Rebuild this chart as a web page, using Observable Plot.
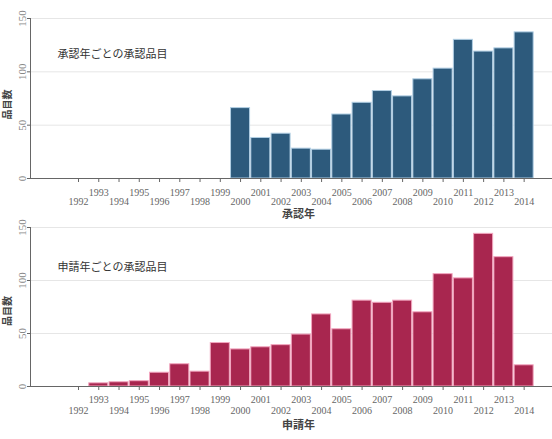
<!DOCTYPE html>
<html>
<head>
<meta charset="utf-8">
<script src="https://cdn.jsdelivr.net/npm/d3@7"></script>
<script src="https://cdn.jsdelivr.net/npm/@observablehq/plot@0.6"></script>
<style>
  body { margin: 0; background: #fff; }
  #chart { width: 552px; }
  #chart svg { display: block; }
</style>
</head>
<body>
<div id="chart"></div>
<script>
// Approval year panel
const approvalYears = [2000, 2001, 2002, 2003, 2004, 2005, 2006, 2007, 2008, 2009, 2010, 2011, 2012, 2013, 2014];
const approvalCounts = [66, 38, 42, 28, 27, 60, 71, 82, 77, 93, 103, 130, 119, 122, 137];

// Application year panel
const applicationYears = [1993, 1994, 1995, 1996, 1997, 1998, 1999, 2000, 2001, 2002, 2003, 2004, 2005, 2006, 2007, 2008, 2009, 2010, 2011, 2012, 2013, 2014];
const applicationCounts = [3, 4, 5, 13, 21, 14, 41, 35, 37, 39, 49, 68, 54, 81, 79, 81, 70, 106, 102, 144, 122, 20];

// Axis ticks
const tickYears = [1992, 1993, 1994, 1995, 1996, 1997, 1998, 1999, 2000, 2001, 2002, 2003, 2004, 2005, 2006, 2007, 2008, 2009, 2010, 2011, 2012, 2013, 2014];
const yTicks = [0, 50, 100, 150];

const titles = ["承認年ごとの承認品目", "申請年ごとの承認品目"];
const xTitles = ["承認年", "申請年"];
const yTitle = "品目数";

const serif = "Liberation Serif";
const sans = "Noto Sans CJK JP";

function panel({years, counts, fill, stroke, title, xTitle, height, marginTop, marginBottom, oddPad, evenPad, titleDy, xTitleDy, yTitleDy}) {
  const data = years.map((y, i) => ({year: y, n: counts[i]}));
  const odd = tickYears.filter(y => y % 2 === 1);
  const even = tickYears.filter(y => y % 2 === 0);
  return Plot.plot({
    width: 552,
    height,
    marginLeft: 30,
    marginRight: 0,
    marginTop,
    marginBottom,
    style: {fontFamily: serif, background: "#fff", overflow: "visible"},
    x: {type: "linear", domain: [1989.63, 2015.4], axis: null},
    y: {domain: [0, 150], axis: null},
    marks: [
      Plot.gridY(yTicks, {stroke: "#e6e6e6", strokeOpacity: 1, strokeWidth: 1}),
      Plot.rectY(data, {x1: d => d.year - 0.47, x2: d => d.year + 0.47, y: "n", fill, stroke, strokeWidth: 1}),
      Plot.axisX({ticks: tickYears, tickSize: 4, tickFormat: () => "", stroke: "#666"}),
      Plot.axisX(odd, {tickSize: 0, tickPadding: oddPad, tickFormat: d => String(d), fontSize: 10, fontFamily: serif, fill: "#666"}),
      Plot.axisX(even, {tickSize: 0, tickPadding: evenPad, tickFormat: d => String(d), fontSize: 10, fontFamily: serif, fill: "#666"}),
      Plot.ruleY([0], {stroke: "#666", strokeWidth: 1}),
      Plot.ruleX([1989.63], {stroke: "#666", strokeWidth: 1}),
      Plot.axisY(yTicks, {tickSize: 3, tickPadding: 2, tickRotate: -90, fontSize: 11, fontFamily: serif, fill: "#888", stroke: "#666", label: null}),
      Plot.text([title], {frameAnchor: "top-left", textAnchor: "start", dx: 27, dy: titleDy, fontFamily: sans, fontSize: 11, fill: "#333"}),
      Plot.text([xTitle], {frameAnchor: "bottom", dx: 7, dy: xTitleDy, fontFamily: sans, fontSize: 11, fontWeight: "bold", fill: "#444"}),
      Plot.text([yTitle], {frameAnchor: "left", textAnchor: "middle", dx: -23, dy: yTitleDy, rotate: -90, fontFamily: sans, fontSize: 10, fontWeight: "bold", fill: "#444"})
    ]
  });
}

const chart = document.getElementById("chart");
chart.append(panel({
  years: approvalYears, counts: approvalCounts,
  fill: "#2d5a7c", stroke: "#b2cfe4",
  title: titles[0], xTitle: xTitles[0],
  height: 220, marginTop: 18, marginBottom: 42,
  oddPad: 10, evenPad: 19, titleDy: 32, xTitleDy: 39, yTitleDy: 6
}));
chart.append(panel({
  years: applicationYears, counts: applicationCounts,
  fill: "#a8264f", stroke: "#f2a6bf",
  title: titles[1], xTitle: xTitles[1],
  height: 219, marginTop: 7, marginBottom: 53,
  oddPad: 9, evenPad: 20, titleDy: 36, xTitleDy: 42, yTitleDy: 4
}));
</script>
</body>
</html>
